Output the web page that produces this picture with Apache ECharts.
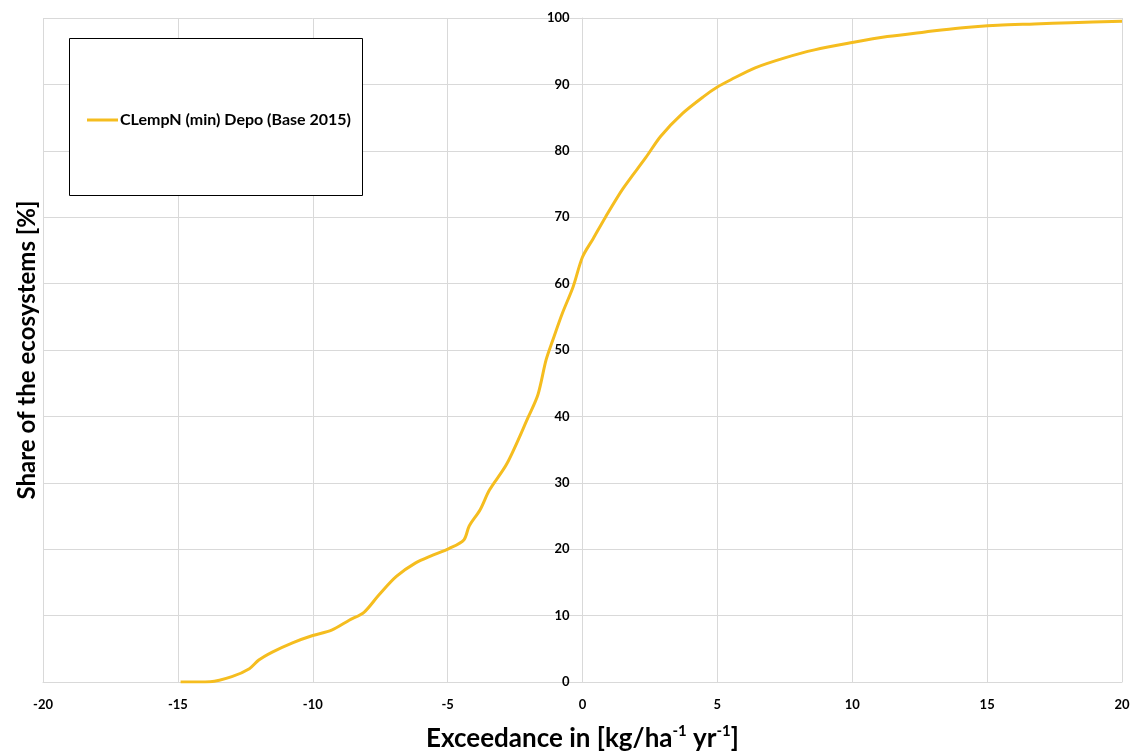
<!DOCTYPE html>
<html>
<head>
<meta charset="utf-8">
<script src="https://cdn.jsdelivr.net/npm/echarts@6/dist/echarts.min.js"></script>
<style>
    html, body { margin: 0; padding: 0; background: #fff; }
    #chart { width: 1135px; height: 752px; }
</style>
</head>
<body>
<div id="chart"></div>
<script>
// exceedance values (x) and cumulative share of ecosystems (y)
const exceedance = [-14.9, -13.8, -13.0, -12.35, -12.0, -11.5, -10.75, -10.0, -9.3, -8.65, -8.1, -7.55,
    -6.9, -6.2, -5.55, -4.95, -4.4, -4.2, -3.8, -3.45, -2.8, -2.0, -1.65, -1.35, -1.1, -0.75, -0.35,
    0, 0.4, 0.85, 1.5, 2.35, 2.9, 3.7, 4.5, 5.0, 5.5, 6.4, 7.5, 8.6, 10.0, 11.3, 12.7, 14.0, 15.4,
    16.75, 18.1, 20];
const share = [0, 0.05, 0.8, 2.0, 3.3, 4.5, 5.9, 7.0, 7.8, 9.3, 10.5, 13.1,
    15.9, 17.9, 19.1, 20.1, 21.4, 23.5, 25.9, 28.9, 32.9, 40.0, 43.3, 48.5, 51.5, 55.5, 59.5,
    64, 66.8, 70.0, 74.3, 79.0, 82.2, 85.6, 88.2, 89.6, 90.7, 92.5, 94.0, 95.2, 96.3, 97.2, 97.9, 98.5, 98.9,
    99.1, 99.3, 99.5];
const seriesName = 'CLempN (min) Depo (Base 2015)';

let chart = echarts.init(document.getElementById('chart'));
let points = exceedance.map((x, i) => [x, share[i]]);
const gridColor = '#d9d9d9';
const font = 'Lato, "Open Sans", sans-serif';
const gridLeft = 43, gridRight = 13;
// half the plot width: moves the y axis from the left edge to x = 0
const yAxisShift = (1135 - gridLeft - gridRight) / 2;

let option = {
    animation: false,
    grid: { left: gridLeft, right: gridRight, top: 18, bottom: 70, containLabel: false, outerBoundsMode: 'none' },
    graphic: [
        {
            // legend frame
            type: 'rect',
            left: 69, top: 38, z: 90,
            shape: { width: 293, height: 157 },
            style: { fill: '#fff', stroke: '#000', lineWidth: 1 }
        }
    ],
    legend: {
        left: 82,
        top: 107,
        z: 100,
        itemWidth: 31,
        itemHeight: 3,
        itemGap: 0,
        icon: 'rect',
        data: [seriesName],
        textStyle: { fontFamily: font, fontWeight: 'bold', fontSize: 16, color: '#000', padding: [0, 0, 0, -3] }
    },
    xAxis: {
        type: 'value',
        min: -20,
        max: 20,
        interval: 5,
        axisLine: { onZero: false, lineStyle: { color: gridColor } },
        axisTick: { show: false },
        axisLabel: { margin: 16, fontFamily: font, fontWeight: 'bold', fontSize: 13, color: '#000' },
        splitLine: { lineStyle: { color: gridColor } },
        name: '{b|Exceedance in [kg/ha}{s|-1}{b| yr}{s|-1}{b|]}',
        nameLocation: 'middle',
        nameGap: 42,
        nameTextStyle: {
            rich: {
                b: { fontFamily: font, fontWeight: 'bold', fontSize: 26, color: '#000', lineHeight: 30 },
                s: { fontFamily: font, fontWeight: 'bold', fontSize: 15, color: '#000', verticalAlign: 'top', lineHeight: 30, padding: [0, 0, 10, 0] }
            }
        }
    },
    yAxis: {
        type: 'value',
        min: 0,
        max: 100,
        interval: 10,
        position: 'left',
        offset: -yAxisShift,
        axisLine: { show: true, onZero: false, lineStyle: { color: gridColor } },
        axisTick: { show: false },
        axisLabel: { margin: 13, fontFamily: font, fontWeight: 'bold', fontSize: 13, color: '#000' },
        splitLine: { lineStyle: { color: gridColor } },
        name: 'Share of the ecosystems [%]',
        nameLocation: 'middle',
        nameRotate: 90,
        // title centre at pixel ~27
        nameGap: yAxisShift + gridLeft - 39,
        nameTextStyle: { fontFamily: font, fontWeight: 'bold', fontSize: 24, color: '#000' }
    },
    series: [
        {
            name: seriesName,
            type: 'line',
            data: points,
            symbol: 'none',
            smooth: 0.3,
            lineStyle: { color: '#f5bd1f', width: 3 },
            itemStyle: { color: '#f5bd1f' }
        }
    ]
};
chart.setOption(option);
</script>
</body>
</html>
